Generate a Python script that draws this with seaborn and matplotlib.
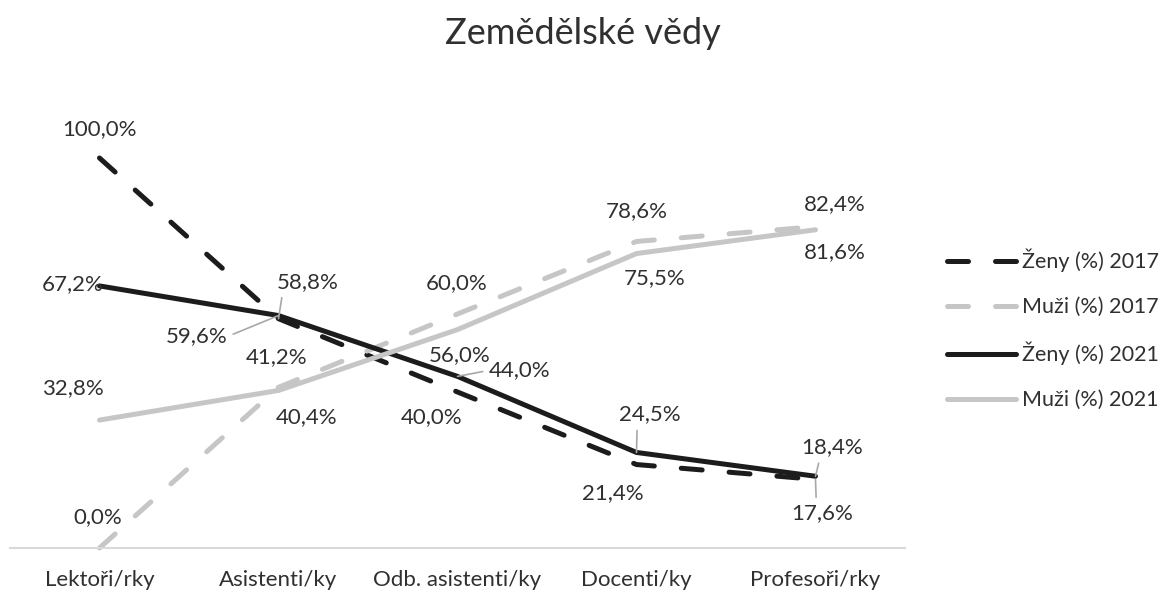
import matplotlib
matplotlib.use("Agg")
import matplotlib.pyplot as plt
import seaborn as sns
import pandas as pd

categories = ["Lektoři/rky", "Asistenti/ky", "Odb. asistenti/ky", "Docenti/ky", "Profesoři/rky"]
zeny_2017 = [100.0, 58.8, 40.0, 21.4, 17.6]
muzi_2017 = [0.0, 41.2, 60.0, 78.6, 82.4]
zeny_2021 = [67.2, 59.6, 44.0, 24.5, 18.4]
muzi_2021 = [32.8, 40.4, 56.0, 75.5, 81.6]

series_names = ["Ženy (%) 2017", "Muži (%) 2017", "Ženy (%) 2021", "Muži (%) 2021"]
series_values = [zeny_2017, muzi_2017, zeny_2021, muzi_2021]

sns.set_theme(style="white")
plt.rcParams["font.family"] = ["Lato", "DejaVu Sans"]

BLACK = "#1c1c1c"
GRAY = "#c6c6c6"
TEXT = "#303030"
LEADER = "#a8a8a8"
FS = 16

styles = {
    "Ženy (%) 2017": dict(color=BLACK, dashed=True),
    "Muži (%) 2017": dict(color=GRAY, dashed=True),
    "Ženy (%) 2021": dict(color=BLACK, dashed=False),
    "Muži (%) 2021": dict(color=GRAY, dashed=False),
}

fig = plt.figure(figsize=(11.66, 5.92), dpi=100)
ax = fig.add_axes([10 / 1166, 44 / 592, (905 - 10) / 1166, (434 - 44) / 592])

xpos = list(range(len(categories)))
for name, vals in zip(series_names, series_values):
    df = pd.DataFrame({"x": xpos, "y": vals})
    st = styles[name]
    sns.lineplot(data=df, x="x", y="y", ax=ax, color=st["color"], lw=3.6,
                 label=name, clip_on=False, solid_capstyle="round",
                 dash_capstyle="round")
    line = ax.lines[-1]
    if st["dashed"]:
        line.set_dashes((4.2, 5.4))

ax.set_xlim(-0.5, len(categories) - 0.5)
ax.set_ylim(0, 100)
ax.set_xticks(xpos)
ax.set_xticklabels(categories, fontsize=FS, color=TEXT)
ax.set_yticks([])
ax.set_xlabel("")
ax.set_ylabel("")
ax.tick_params(axis="x", length=0, pad=16)
for side in ["top", "right", "left"]:
    ax.spines[side].set_visible(False)
ax.spines["bottom"].set_color("#d9d9d9")
ax.spines["bottom"].set_linewidth(1.5)

# data labels: (series index, category index, offset in pixels, leader relpos or None)
labels = [
    (0, 0, (0, 29), None),
    (1, 0, (-2, 31), None),
    (2, 0, (-27, 2), None),
    (3, 0, (-27, 32), None),
    (0, 1, (29, 37), (0.1, 0.0)),
    (2, 1, (-82, -21), (1.0, 0.5)),
    (1, 1, (-2, 30), None),
    (3, 1, (28, -27), None),
    (1, 2, (-1, 31), None),
    (0, 2, (-26, -25), None),
    (3, 2, (2, -25), None),
    (2, 2, (62, 6), (0.0, 0.5)),
    (2, 3, (13, 38), (0.3, 0.0)),
    (0, 3, (-24, -29), None),
    (1, 3, (0, 30), None),
    (3, 3, (18, -25), None),
    (1, 4, (19, 23), None),
    (3, 4, (19, -22), None),
    (2, 4, (17, 29), (0.3, 0.0)),
    (0, 4, (7, -34), (0.4, 1.0)),
]

for si, ci, (dx, dy), relpos in labels:
    v = series_values[si][ci]
    txt = f"{v:.1f}%".replace(".", ",")
    kw = {}
    if relpos is not None:
        kw["arrowprops"] = dict(arrowstyle="-", color=LEADER, lw=1.2,
                                shrinkA=2, shrinkB=0, relpos=relpos)
    ax.annotate(txt, xy=(ci, v), xytext=(dx, dy), textcoords="offset pixels",
                ha="center", va="center", fontsize=FS, color=TEXT,
                annotation_clip=False, **kw)

fig.suptitle("Zemědělské vědy", x=0.5, y=0.972, fontsize=26, color=TEXT)

leg = ax.legend(loc="center left", bbox_to_anchor=((947 - 10) / 895, 0.56),
                frameon=False, fontsize=15.5, handlelength=3.2, handletextpad=0.3,
                labelspacing=1.15, borderaxespad=0, borderpad=0, labelcolor=TEXT)

fig.savefig("out.png", dpi=100)
